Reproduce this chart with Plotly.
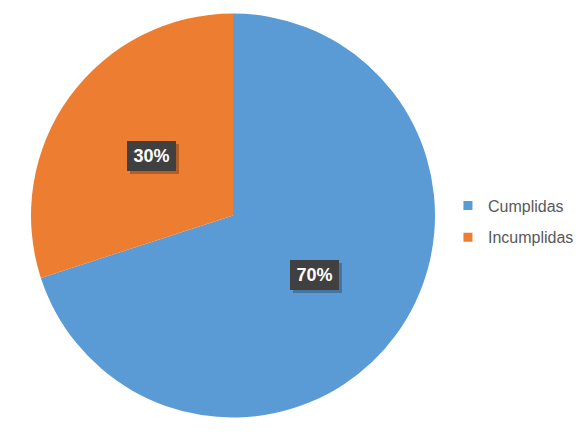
import math
import plotly.graph_objects as go

labels = ['Cumplidas', 'Incumplidas']
values = [70, 30]
colors = ['#5B9BD5', '#ED7D31']

W, H = 578, 443
# dominio del pastel (fracciones de papel)
dom_x = [31 / W, 435 / W]
dom_y = [25 / H, 430 / H]

fig = go.Figure()
fig.add_trace(go.Pie(
    labels=labels, values=values,
    marker=dict(colors=colors, line=dict(color='white', width=0)),
    sort=False, direction='clockwise', rotation=0,
    textinfo='none', hoverinfo='label+percent',
    domain=dict(x=dom_x, y=dom_y), showlegend=False,
))

# leyenda con trazas vacias para poder separar las entradas
for lab, col in zip(labels, colors):
    fig.add_trace(go.Scatter(
        x=[None], y=[None], mode='markers', name=lab, legendgroup=lab,
        marker=dict(symbol='square', size=9, color=col),
    ))

# etiquetas con caja oscura, colocadas en el angulo medio de cada porcion
cx = (dom_x[0] + dom_x[1]) / 2 * W
cy = (dom_y[0] + dom_y[1]) / 2 * H
r = (dom_x[1] - dom_x[0]) * W / 2
total = sum(values)
acc = 0
for v in values:
    mid = (acc + v / 2) / total * 2 * math.pi
    acc += v
    px = cx + 0.5 * r * math.sin(mid)
    py = cy + 0.5 * r * math.cos(mid)
    # sombra
    fig.add_annotation(
        x=(px + 3) / W, y=(py - 3) / H, xref='paper', yref='paper',
        xanchor='center', yanchor='middle', text=' ', showarrow=False,
        bgcolor='rgba(0,0,0,0.25)', borderpad=4, borderwidth=0,
        width=41, height=22,
    )
    fig.add_annotation(
        x=px / W, y=py / H, xref='paper', yref='paper',
        xanchor='center', yanchor='middle',
        text=f"<b>{round(v / total * 100)}%</b>", showarrow=False,
        font=dict(family='Liberation Sans, Arial', size=18, color='white'),
        bgcolor='#404040', borderpad=4, borderwidth=0,
        width=41, height=22,
    )

fig.update_layout(
    width=W, height=H,
    margin=dict(l=0, r=0, t=0, b=0, autoexpand=False),
    paper_bgcolor='white', plot_bgcolor='white',
    xaxis=dict(visible=False), yaxis=dict(visible=False),
    legend=dict(
        x=0.775, y=0.5, xanchor='left', yanchor='middle',
        font=dict(family='Liberation Sans, Arial', size=16, color='#595959'),
        itemwidth=30, tracegroupgap=8,
    ),
)

fig.write_html("out.html", config={'displayModeBar': False},
               post_script="document.body.style.margin='0';")
